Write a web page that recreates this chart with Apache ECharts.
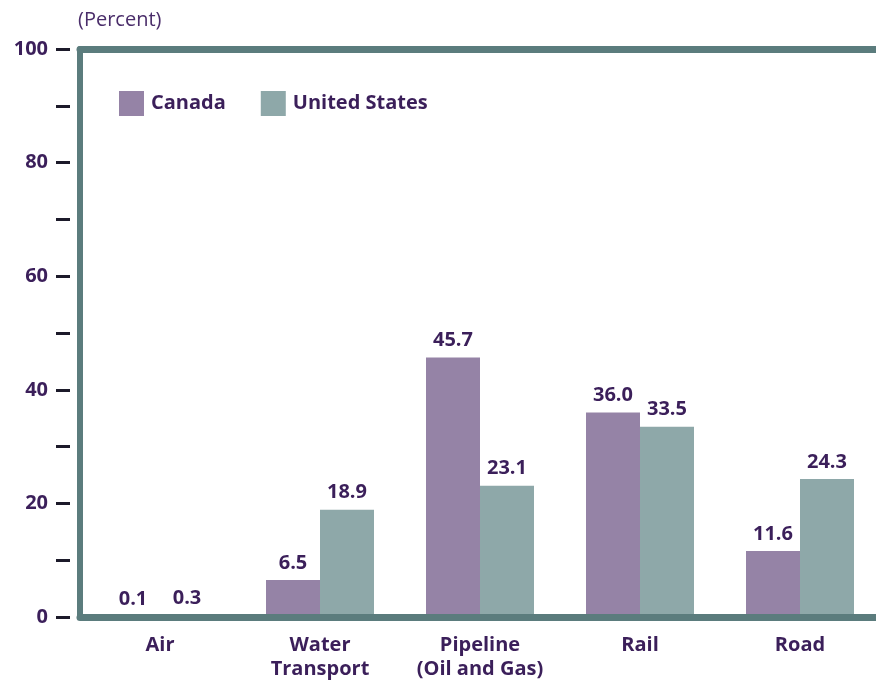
<!DOCTYPE html>
<html>
<head>
<meta charset="utf-8">
<script src="https://cdn.jsdelivr.net/npm/echarts@6/dist/echarts.min.js"></script>
<style>html,body{margin:0;padding:0;background:#fff;overflow:hidden;width:876px;height:681px}#c{width:884px;height:681px}</style>
</head>
<body>
<div id="c"></div>
<script>
const categories = ['Air', 'Water\nTransport', 'Pipeline\n(Oil and Gas)', 'Rail', 'Road'];
const canada = [0.1, 6.5, 45.7, 36.0, 11.6];
const unitedStates = [0.3, 18.9, 23.1, 33.5, 24.3];
const seriesNames = ['Canada', 'United States'];
const unitLabel = '(Percent)';

const FONT = 'Open Sans';
const TXT = '#3b1f5a';
const BORDER = '#5b7c7d';
const FS = 20;

const chart = echarts.init(document.getElementById('c'), null, {renderer: 'canvas'});
const labelStyle = {
  show: true, position: 'top', distance: 7,
  fontFamily: FONT, fontWeight: 'bold', fontSize: FS, color: TXT,
  formatter: p => p.value.toFixed(1)
};
chart.setOption({
  animation: false,
  backgroundColor: '#fff',
  title: {
    text: unitLabel, left: 78, top: 10, padding: 0,
    textStyle: {fontFamily: FONT, fontWeight: 'normal', fontSize: 20, color: '#4a2d6a'}
  },
  legend: {
    left: 119, top: 91, padding: 0, itemWidth: 25, itemHeight: 25, itemGap: 35,
    icon: 'rect',
    textStyle: {fontFamily: FONT, fontWeight: 'bold', fontSize: FS, color: TXT, padding: [0, 0, 0, 2]},
    data: seriesNames
  },
  grid: {left: 80, right: 4, top: 49, bottom: 64, containLabel: false},
  xAxis: [{
    type: 'category', data: categories, position: 'bottom', z: 10,
    axisLine: {onZero: false, lineStyle: {color: BORDER, width: 7}},
    axisTick: {show: false},
    axisLabel: {interval: 0, margin: 16, fontFamily: FONT, fontWeight: 'bold', fontSize: FS, color: TXT, lineHeight: 24}
  }, {
    type: 'category', data: categories, position: 'top', z: 10,
    axisLine: {onZero: false, lineStyle: {color: BORDER, width: 7}},
    axisTick: {show: false}, axisLabel: {show: false}
  }],
  yAxis: [{
    type: 'value', min: 0, max: 100, interval: 10, position: 'left', z: 10,
    axisLine: {show: true, onZero: false, lineStyle: {color: BORDER, width: 6}},
    axisTick: {show: false}, axisLabel: {show: false}, splitLine: {show: false}
  }, {
    type: 'value', min: 0, max: 100, interval: 10, position: 'left', offset: 10,
    axisLine: {show: false, onZero: false},
    axisTick: {show: true, length: 14, lineStyle: {color: '#1c1a2a', width: 3}},
    axisLabel: {margin: 22, fontFamily: FONT, fontWeight: 'bold', fontSize: FS, color: TXT,
      formatter: v => (v % 20 === 0 ? String(v) : '')},
    splitLine: {show: false}
  }],
  series: [{
    name: seriesNames[0], type: 'bar', data: canada, xAxisIndex: 0, yAxisIndex: 0,
    barGap: '0%', barCategoryGap: '32.5%',
    itemStyle: {color: '#9583a6'}, label: labelStyle
  }, {
    name: seriesNames[1], type: 'bar', data: unitedStates, xAxisIndex: 0, yAxisIndex: 0,
    barGap: '0%', barCategoryGap: '32.5%',
    itemStyle: {color: '#8ea8a9'}, label: labelStyle
  }]
});
</script>
</body>
</html>
